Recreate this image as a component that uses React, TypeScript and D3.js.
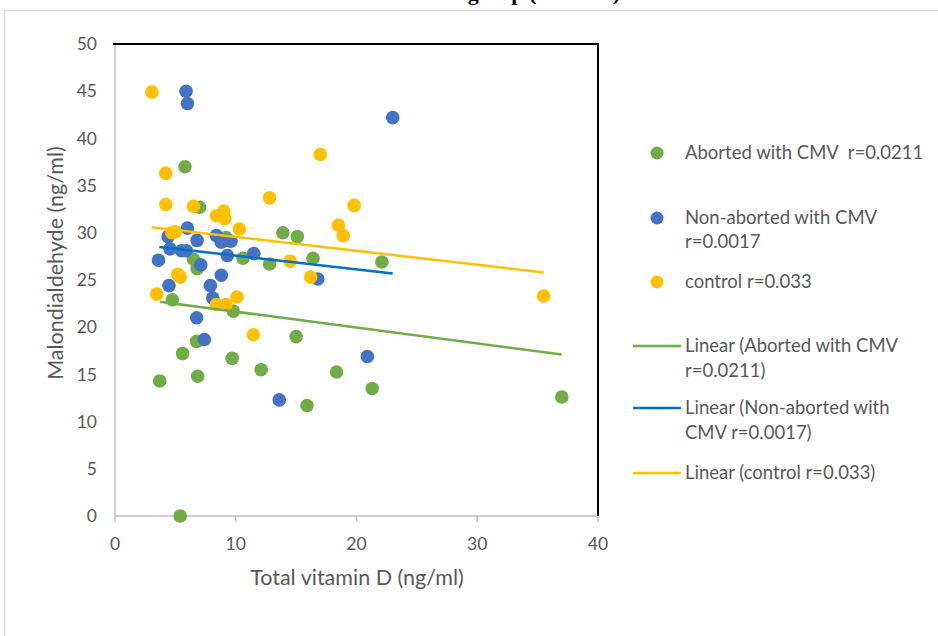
import React from "react";
import * as d3 from "d3";

const xTicks = [0, 10, 20, 30, 40];
const yTicks = [0, 5, 10, 15, 20, 25, 30, 35, 40, 45, 50];

const seriesNames = ["Aborted with CMV  r=0.0211", "Non-aborted with CMV r=0.0017", "control r=0.033"];
const trendNames = ["Linear (Aborted with CMV r=0.0211)", "Linear (Non-aborted with CMV r=0.0017)", "Linear (control r=0.033)"];

const abortedX = [5.8, 7.0, 13.9, 15.1, 9.2, 6.5, 6.8, 10.6, 12.8, 16.4, 22.1, 4.75, 9.8, 6.76, 15.0, 5.6, 9.7, 12.1, 18.35, 3.7, 6.85, 15.9, 21.3, 37.0, 5.4];
const abortedY = [37.0, 32.7, 30.0, 29.6, 29.5, 27.2, 26.2, 27.3, 26.7, 27.3, 26.9, 22.9, 21.7, 18.5, 19.0, 17.2, 16.7, 15.5, 15.25, 14.3, 14.8, 11.7, 13.5, 12.6, 0.0];

const nonAbortedX = [5.88, 6.0, 23.0, 6.0, 4.4, 4.55, 6.8, 8.4, 8.8, 9.6, 9.2, 5.5, 5.9, 9.3, 11.5, 3.6, 7.1, 8.8, 16.8, 4.47, 7.9, 8.1, 6.76, 7.4, 13.6, 20.9];
const nonAbortedY = [45.0, 43.7, 42.2, 30.5, 29.6, 28.3, 29.2, 29.7, 29.0, 29.1, 29.2, 28.1, 28.1, 27.6, 27.8, 27.1, 26.6, 25.5, 25.1, 24.4, 24.4, 23.1, 21.0, 18.7, 12.3, 16.9];

const controlX = [3.06, 4.2, 4.2, 6.5, 8.4, 9.0, 9.1, 10.3, 12.8, 17.0, 19.8, 18.5, 18.9, 4.7, 5.0, 14.5, 16.2, 5.2, 5.4, 3.45, 8.4, 9.2, 10.1, 11.45, 35.5];
const controlY = [44.9, 36.3, 33.0, 32.8, 31.8, 32.3, 31.5, 30.4, 33.7, 38.3, 32.9, 30.8, 29.7, 30.0, 30.1, 27.0, 25.3, 25.6, 25.3, 23.5, 22.4, 22.4, 23.2, 19.2, 23.3];

const trendStartX = [3.7, 3.67, 3.04];
const trendStartY = [22.7, 28.5, 30.6];
const trendEndX = [37.0, 23.0, 35.5];
const trendEndY = [17.1, 25.7, 25.8];

const markerColors = ["#70AD47", "#4472C4", "#FFC000"];
const lineColors = ["#70AD47", "#0070C0", "#FFC000"];

export default function App() {
  const W = 938, H = 636;
  const left = 115, right = 598, top = 44, bottom = 516;
  const x = d3.scaleLinear().domain([0, 40]).range([left, right]);
  const y = d3.scaleLinear().domain([0, 50]).range([bottom, top]);
  const font = "Lato, 'Open Sans', sans-serif";
  const gray = "#595959";

  const series = [
    { xs: abortedX, ys: abortedY },
    { xs: nonAbortedX, ys: nonAbortedY },
    { xs: controlX, ys: controlY },
  ];
  const line = d3.line<[number, number]>().x((d) => x(d[0])).y((d) => y(d[1]));

  const legendMarkerY = [153, 218, 282];
  const legendTextLines = [["Aborted with CMV  r=0.0211"], ["Non-aborted with CMV", "r=0.0017"], ["control r=0.033"]];
  const legendLineY = [346, 408, 473];
  const legendLineText = [["Linear (Aborted with CMV", "r=0.0211)"], ["Linear (Non-aborted with", "CMV r=0.0017)"], ["Linear (control r=0.033)"]];

  return (
    <svg width={W} height={H} style={{ position: "fixed", left: 0, top: 0, background: "#fff" }}>
      <rect x={0} y={0} width={W} height={H} fill="#fff" />
      <text x={620} y={-0.5} textAnchor="end" fontFamily="'Liberation Serif', serif" fontWeight="bold" fontSize={22} fill="#000">
        Correlation between vitamin D and MDA in each group (all cases)
      </text>
      <rect x={4.5} y={10.5} width={W + 10} height={H + 10} fill="none" stroke="#D9D9D9" strokeWidth={1.5} />

      {/* axes */}
      <line x1={left} x2={right} y1={bottom} y2={bottom} stroke="#BFBFBF" strokeWidth={1.5} />
      <line x1={left} x2={left} y1={top} y2={bottom} stroke="#BFBFBF" strokeWidth={1.5} />
      <line x1={left - 2} x2={right + 1} y1={top} y2={top} stroke="#000" strokeWidth={2} />
      <line x1={right} x2={right} y1={top} y2={bottom} stroke="#000" strokeWidth={2} />
      {xTicks.map((t) => (
        <g key={"xt" + t}>
          <line x1={x(t)} x2={x(t)} y1={bottom} y2={bottom + 6} stroke="#BFBFBF" strokeWidth={1.5} />
          <text x={x(t)} y={550} textAnchor="middle" fontFamily={font} fontSize={17.5} fill={gray}>{t}</text>
        </g>
      ))}
      {yTicks.map((t) => (
        <text key={"yt" + t} x={97} y={y(t)} dy="0.35em" textAnchor="end" fontFamily={font} fontSize={17.5} fill={gray}>{t}</text>
      ))}
      <text x={357} y={585} textAnchor="middle" fontFamily={font} fontSize={21.5} fill={gray}>Total vitamin D (ng/ml)</text>
      <text transform="translate(63,263) rotate(-90)" textAnchor="middle" fontFamily={font} fontSize={21.5} fill={gray}>Malondialdehyde (ng/ml)</text>

      {/* points */}
      {series.map((s, i) => (
        <g key={"s" + i}>
          {s.xs.map((vx, j) => (
            <circle key={j} cx={x(vx)} cy={y(s.ys[j])} r={6.8} fill={markerColors[i]} />
          ))}
        </g>
      ))}
      {/* trend lines */}
      {trendStartX.map((sx, i) => (
        <path key={"tl" + i} d={line([[sx, trendStartY[i]], [trendEndX[i], trendEndY[i]]]) || ""} stroke={lineColors[i]} strokeWidth={2.5} fill="none" />
      ))}

      {/* legend */}
      {seriesNames.map((n, i) => (
        <g key={"lg" + i}>
          <circle cx={657} cy={legendMarkerY[i]} r={6.5} fill={markerColors[i]} />
          {legendTextLines[i].map((t, k) => (
            <text key={k} x={685} y={legendMarkerY[i] + 6 + k * 24} fontFamily={font} fontSize={18.5} fill={gray} style={{ whiteSpace: "pre" }}>{t}</text>
          ))}
        </g>
      ))}
      {trendNames.map((n, i) => (
        <g key={"lt" + i}>
          <line x1={633} x2={681} y1={legendLineY[i]} y2={legendLineY[i]} stroke={lineColors[i]} strokeWidth={2.5} />
          {legendLineText[i].map((t, k) => (
            <text key={k} x={685} y={legendLineY[i] + 6 + k * 25} fontFamily={font} fontSize={18.5} fill={gray}>{t}</text>
          ))}
        </g>
      ))}
    </svg>
  );
}
